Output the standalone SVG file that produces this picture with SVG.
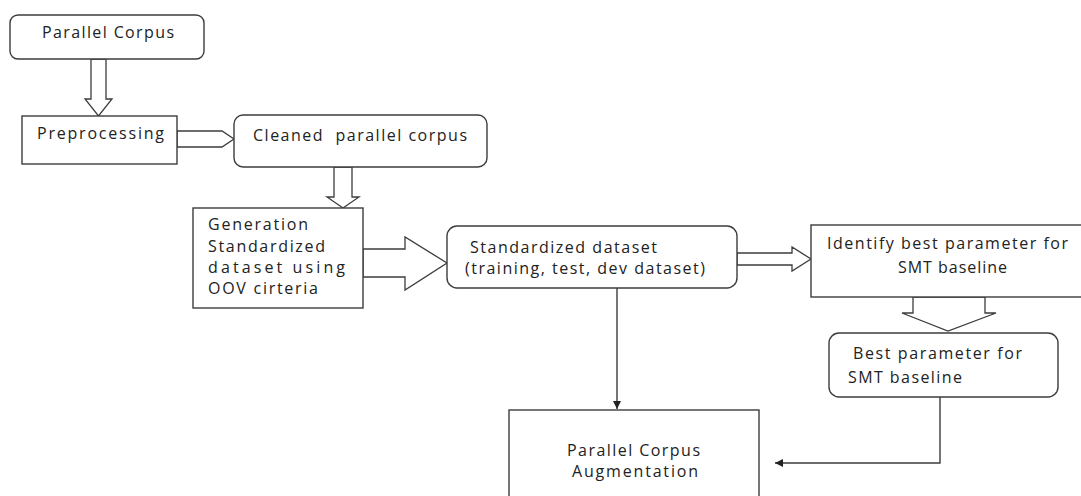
<svg xmlns="http://www.w3.org/2000/svg" width="1081" height="496" viewBox="0 0 1081 496">
<style>
.box{fill:#fff;stroke:#3c3c3c;stroke-width:1.4}
.harrow{fill:#fff;stroke:#3c3c3c;stroke-width:1.3;stroke-linejoin:miter}
.t{font-family:"Open Sans","DejaVu Sans",sans-serif;font-size:16px;fill:#222}
.line{fill:none;stroke:#3c3c3c;stroke-width:1.4}
</style>
<defs>
<marker id="ah" viewBox="0 0 10 10" refX="10" refY="5" markerWidth="8" markerHeight="8" markerUnits="userSpaceOnUse" orient="auto">
<path d="M0,0 L10,5 L0,10 z" fill="#222"/>
</marker>
</defs>
<rect width="1081" height="496" fill="#fff"/>

<g id="connectors">
<polygon class="harrow" points="91,59 106,59 106,99 112,99 98.5,116 85,99 91,99"/>
<polygon class="harrow" points="177,131 222,131 234,139 222,147 177,147"/>
<polygon class="harrow" points="334,167 352,167 352,197 359,197 343,208 327,197 334,197"/>
<polygon class="harrow" points="363,249 405,249 405,237 447,263 405,290 405,277 363,277"/>
<polygon class="harrow" points="737,253 792,253 792,247 811,259 792,271 792,265 737,265"/>
<polygon class="harrow" points="913,297 985,297 985,313 996,313 948,331 902,313 913,313"/>
<path class="line" d="M617,288 V409" marker-end="url(#ah)"/>
<path class="line" d="M940,397 V463 H775" marker-end="url(#ah)"/>
</g>

<g id="n1">
<rect class="box" x="10" y="15" width="194" height="44" rx="8"/>
<text class="t" x="42" y="38" textLength="132" lengthAdjust="spacing">Parallel Corpus</text>
</g>
<g id="n2">
<rect class="box" x="22" y="116" width="155" height="48"/>
<text class="t" x="37" y="139" textLength="127" lengthAdjust="spacing">Preprocessing</text>
</g>
<g id="n3">
<rect class="box" x="234" y="115" width="253" height="52" rx="9"/>
<text class="t" x="253" y="141" textLength="214" lengthAdjust="spacing" xml:space="preserve">Cleaned  parallel corpus</text>
</g>
<g id="n4">
<rect class="box" x="193" y="208" width="170" height="100"/>
<text class="t" x="208" y="230" textLength="100" lengthAdjust="spacing">Generation</text>
<text class="t" x="208" y="252" textLength="117" lengthAdjust="spacing">Standardized</text>
<text class="t" x="208" y="273" textLength="137" lengthAdjust="spacing">dataset using</text>
<text class="t" x="208" y="294" textLength="110" lengthAdjust="spacing">OOV cirteria</text>
</g>
<g id="n5">
<rect class="box" x="447" y="226" width="290" height="62" rx="10"/>
<text class="t" x="470" y="253" textLength="187" lengthAdjust="spacing">Standardized dataset</text>
<text class="t" x="465" y="274" textLength="240" lengthAdjust="spacing">(training, test, dev dataset)</text>
</g>
<g id="n6">
<rect class="box" x="811" y="225" width="290" height="72"/>
<text class="t" x="827" y="249" textLength="241" lengthAdjust="spacing">Identify best parameter for</text>
<text class="t" x="898" y="273" textLength="109" lengthAdjust="spacing">SMT baseline</text>
</g>
<g id="n7">
<rect class="box" x="829" y="333" width="229" height="64" rx="10"/>
<text class="t" x="853" y="359" textLength="169" lengthAdjust="spacing">Best parameter for</text>
<text class="t" x="848" y="383" textLength="114" lengthAdjust="spacing">SMT baseline</text>
</g>
<g id="n8">
<rect class="box" x="509" y="410" width="250" height="100"/>
<text class="t" x="567" y="456" textLength="133" lengthAdjust="spacing">Parallel Corpus</text>
<text class="t" x="572" y="477" textLength="126" lengthAdjust="spacing">Augmentation</text>
</g>
</svg>
